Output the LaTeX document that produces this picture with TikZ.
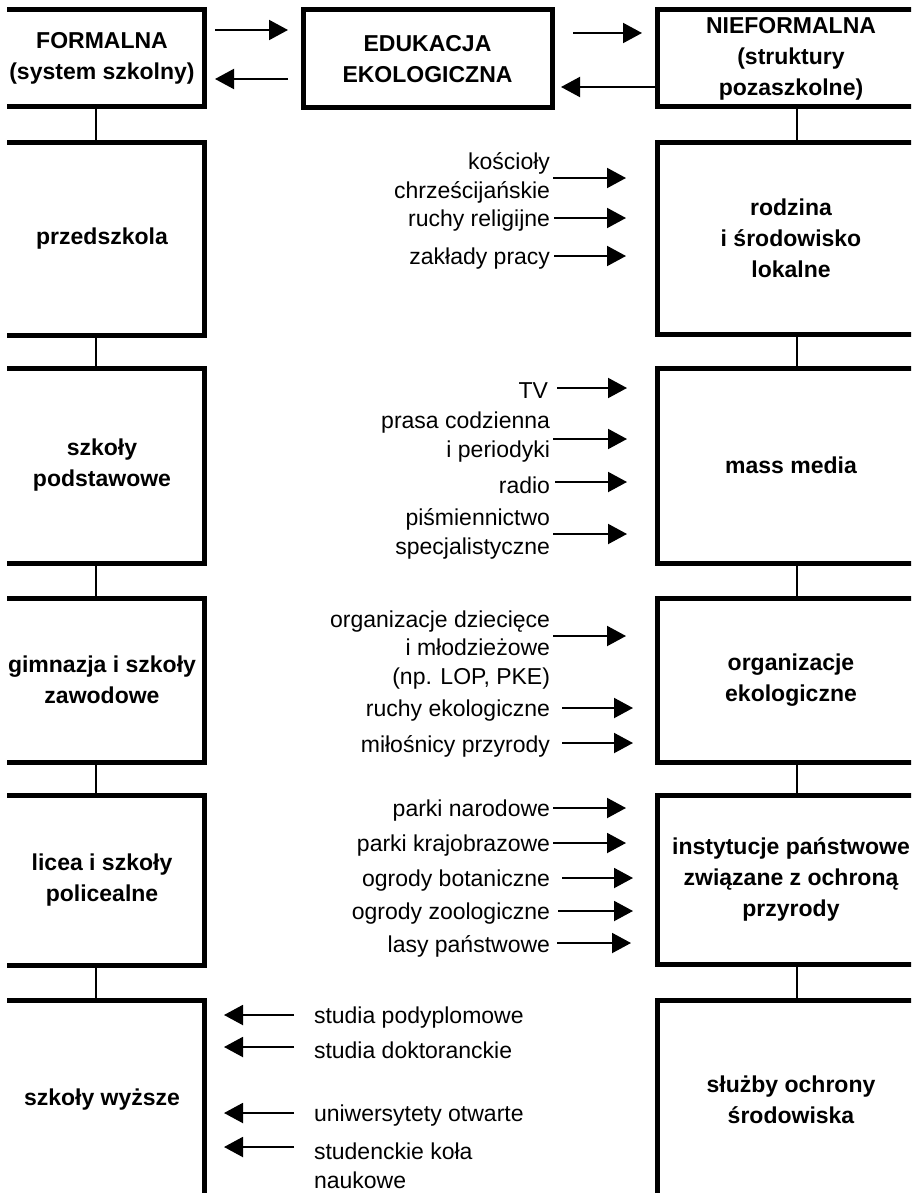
\documentclass[tikz,border=0pt]{standalone}
\usepackage{fontspec}
\setmainfont{Liberation Sans}
\usetikzlibrary{arrows.meta,calc}
\tikzset{
  box/.style={draw, line width=2.5pt, inner sep=0pt, outer sep=0pt, align=center,
    font=\bfseries\fontsize{11.5pt}{15.5pt}\selectfont},
  lbox/.style={box, minimum width=102pt},
  rbox/.style={box, minimum width=134pt},
  lbl/.style={inner sep=0pt, outer sep=0pt, font=\fontsize{11.5pt}{14.25pt}\selectfont},
  rlbl/.style={lbl, anchor=east, align=right},
  llbl/.style={lbl, anchor=west, align=left},
  arr/.style={line width=1pt, -{Triangle[length=9.5pt,width=10pt]}},
  conn/.style={line width=1.2pt},
}
\newcommand{\sidearr}[5]{\draw[arr] ($(#1.east)+(#3,#4)$) -- ($(#2.west |- #1.east)+(-#5,#4)$);}
\newcommand{\backarr}[2]{\draw[arr] ($(#1.west)+(-20,#2)$) -- ($(L5.east |- #1.west)+(20,#2)$);}
\begin{document}
\begin{tikzpicture}[x=0.5pt,y=-0.5pt]
\useasboundingbox (0,0) rectangle (911,1193);
\fill[white] (0,0) rectangle (911,1193);
\clip (7,0) rectangle (911,1193);
% top row
\node[lbox, minimum height=48.5pt] (F) at (102,58.5) {FORMALNA\\(system szkolny)};
\node[box, minimum width=124.5pt, minimum height=49pt] (E) at (427.5,59) {EDUKACJA\\EKOLOGICZNA};
\node[rbox, minimum height=48.5pt] (N) at (791,58.5) {NIEFORMALNA\\(struktury\\pozaszkolne)};
% left column
\node[lbox, minimum height=96.5pt] (L1) at (102,238.5) {przedszkola};
\node[lbox, minimum height=97.5pt] (L2) at (102,465.5) {szkoły\\podstawowe};
\node[lbox, minimum height=82pt] (L3) at (102,680) {gimnazja i szkoły\\zawodowe};
\node[lbox, minimum height=85pt] (L4) at (102,880) {licea i szkoły\\policealne};
\node[lbox, minimum height=100pt] (L5) at (102,1100) {szkoły wyższe};
% right column
\node[rbox, minimum height=96pt] (R1) at (791,238) {rodzina\\i środowisko\\lokalne};
\node[rbox, minimum height=97.5pt] (R2) at (791,465.5) {mass media};
\node[rbox, minimum height=82pt] (R3) at (791,680) {organizacje\\ekologiczne};
\node[rbox, minimum height=84.5pt] (R4) at (791,879.5) {instytucje państwowe\\związane z ochroną\\przyrody};
\node[rbox, minimum height=100pt] (R5) at (791,1100) {służby ochrony\\środowiska};
% vertical connectors
\foreach \a/\b in {F/L1,L1/L2,L2/L3,L3/L4,L4/L5}
  \draw[conn] ([xshift=-3pt]\a.south) -- ([xshift=-3pt]\b.north);
\foreach \a/\b in {N/R1,R1/R2,R2/R3,R3/R4,R4/R5}
  \draw[conn] ([xshift=3pt]\a.south) -- ([xshift=3pt]\b.north);
% top arrows
\draw[arr] ($(F.east)+(11,-28.5)$) -- ($(E.west)+(-15,-29)$);
\draw[arr] ($(E.west)+(-15,20)$) -- ($(F.east)+(11,20.5)$);
\draw[arr] ($(E.east)+(21,-26)$) -- ($(N.west)+(-15,-25.5)$);
\draw[arr] ($(N.west)+(0,28.5)$) -- ($(E.east)+(9,28)$);
% row 1 labels
\node[rlbl] (k1) at (550,178) {kościoły\\chrześcijańskie};
\node[rlbl] (k2) at (550,221) {ruchy religijne};
\node[rlbl] (k3) at (550,259) {zakłady pracy};
\sidearr{k1}{R1}{3}{0}{31}
\sidearr{k2}{R1}{4}{-3}{31}
\sidearr{k3}{R1}{4}{-3}{31}
% row 2 labels
\node[rlbl] (m1) at (548,391) {TV};
\node[rlbl] (m2) at (550,437) {prasa codzienna\\i periodyki};
\node[rlbl] (m3) at (550,485) {radio};
\node[rlbl] (m4) at (550,534) {piśmiennictwo\\specjalistyczne};
\sidearr{m1}{R2}{9}{-3}{30}
\sidearr{m2}{R2}{3}{2}{30}
\sidearr{m3}{R2}{5}{-3}{30}
\sidearr{m4}{R2}{3}{0}{30}
% row 3 labels
\node[rlbl] (o1) at (550,650) {organizacje dziecięce\\i młodzieżowe\\(np. LOP, PKE)};
\node[rlbl] (o2) at (550,711) {ruchy ekologiczne};
\node[rlbl] (o3) at (550,746) {miłośnicy przyrody};
\sidearr{o1}{R3}{3}{-14}{31}
\sidearr{o2}{R3}{12}{-3}{24}
\sidearr{o3}{R3}{12}{-3}{24}
% row 4 labels
\node[rlbl] (p1) at (550,811) {parki narodowe};
\node[rlbl] (p2) at (550,846) {parki krajobrazowe};
\node[rlbl] (p3) at (550,881) {ogrody botaniczne};
\node[rlbl] (p4) at (550,914) {ogrody zoologiczne};
\node[rlbl] (p5) at (550,946) {lasy państwowe};
\sidearr{p1}{R4}{3}{-3}{31}
\sidearr{p2}{R4}{3}{-3}{31}
\sidearr{p3}{R4}{12}{-3}{24}
\sidearr{p4}{R4}{8}{-3}{24}
\sidearr{p5}{R4}{7}{-3}{26}
% bottom labels
\node[llbl] (s1) at (314,1018) {studia podyplomowe};
\node[llbl] (s2) at (314,1050) {studia doktoranckie};
\node[llbl] (s3) at (314,1116) {uniwersytety otwarte};
\node[llbl] (s4) at (314,1166) {studenckie koła\\naukowe};
\backarr{s1}{-3}
\backarr{s2}{-3}
\backarr{s3}{-3}
\backarr{s4}{-19}
\end{tikzpicture}
\end{document}
